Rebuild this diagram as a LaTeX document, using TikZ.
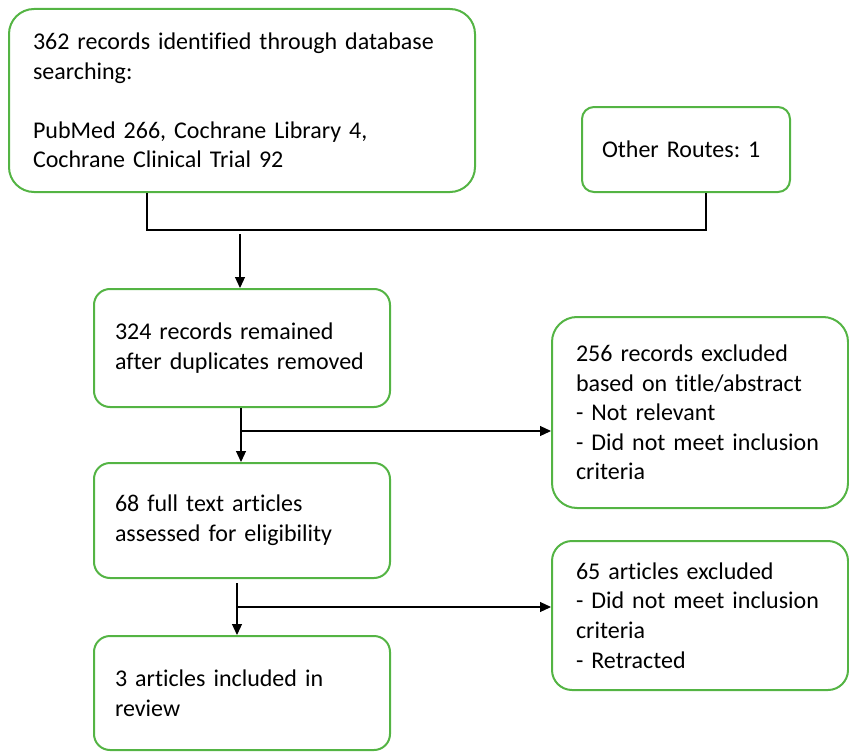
\documentclass[tikz,border=0pt]{standalone}
\usepackage{fontspec}
\setmainfont{Carlito}[Ligatures=NoCommon]
\frenchspacing
\usetikzlibrary{arrows.meta}
\definecolor{boxgreen}{RGB}{84,180,68}
\tikzset{
  box/.style={draw=boxgreen, line width=2pt, rounded corners=#1, anchor=north west,
    align=left, font=\fontsize{24}{29.6}\selectfont, inner ysep=0pt},
  box/.default=20pt,
  conn/.style={draw=black, line width=1.2pt},
  arr/.style={conn, -{Triangle[width=10pt,length=11pt]}}
}
\begin{document}
\begin{tikzpicture}[x=1pt,y=-1pt]
\useasboundingbox (0,0) rectangle (849,752);
\node[box=25pt, minimum width=466pt, minimum height=183pt, text width=418pt, inner xsep=24pt] (b1) at (8,8)
  {362 records identified through database\\searching:\\[29.6pt]PubMed 266, Cochrane Library 4,\\Cochrane Clinical Trial 92};
\node[box=12pt, minimum width=208pt, minimum height=85pt, text width=168pt, inner xsep=20pt] (b2) at (581,106)
  {Other Routes: 1};
\node[box=16pt, minimum width=296pt, minimum height=118pt, text width=254pt, inner xsep=21pt] (b3) at (93,288)
  {324 records remained\\after duplicates removed};
\node[box=25pt, minimum width=296pt, minimum height=191pt, text width=248pt, inner xsep=24pt] (b4) at (551,316)
  {256 records excluded\\based on title/abstract\\- Not relevant\\- Did not meet inclusion\\criteria};
\node[box=16pt, minimum width=296pt, minimum height=115pt, text width=254pt, inner xsep=21pt] (b5) at (93,462)
  {68 full text articles\\assessed for eligibility};
\node[box=20pt, minimum width=296pt, minimum height=149pt, text width=248pt, inner xsep=24pt] (b6) at (551,540)
  {65 articles excluded\\- Did not meet inclusion\\criteria\\- Retracted};
\node[box=16pt, minimum width=296pt, minimum height=114pt, text width=254pt, inner xsep=21pt] (b7) at (93,635)
  {3 articles included in\\review};
% merge of the two sources
\coordinate (j1) at (147,230);
\coordinate (j2) at (706,230);
\coordinate (s1) at (240,234);
\draw[conn] (147,0 |- b1.south) -- (j1) -- (j2) -- (706,0 |- b2.south);
\draw[arr] (s1) -- (240,0 |- b3.north);
% second stage
\coordinate (k1) at (241,431);
\draw[arr] (241,0 |- b3.south) -- (241,0 |- b5.north);
\draw[arr] (k1) -- (b4.west |- k1);
% third stage
\coordinate (k2) at (237,607);
\draw[arr] (237,583) -- (237,0 |- b7.north);
\draw[arr] (k2) -- (b6.west |- k2);
\end{tikzpicture}
\end{document}
